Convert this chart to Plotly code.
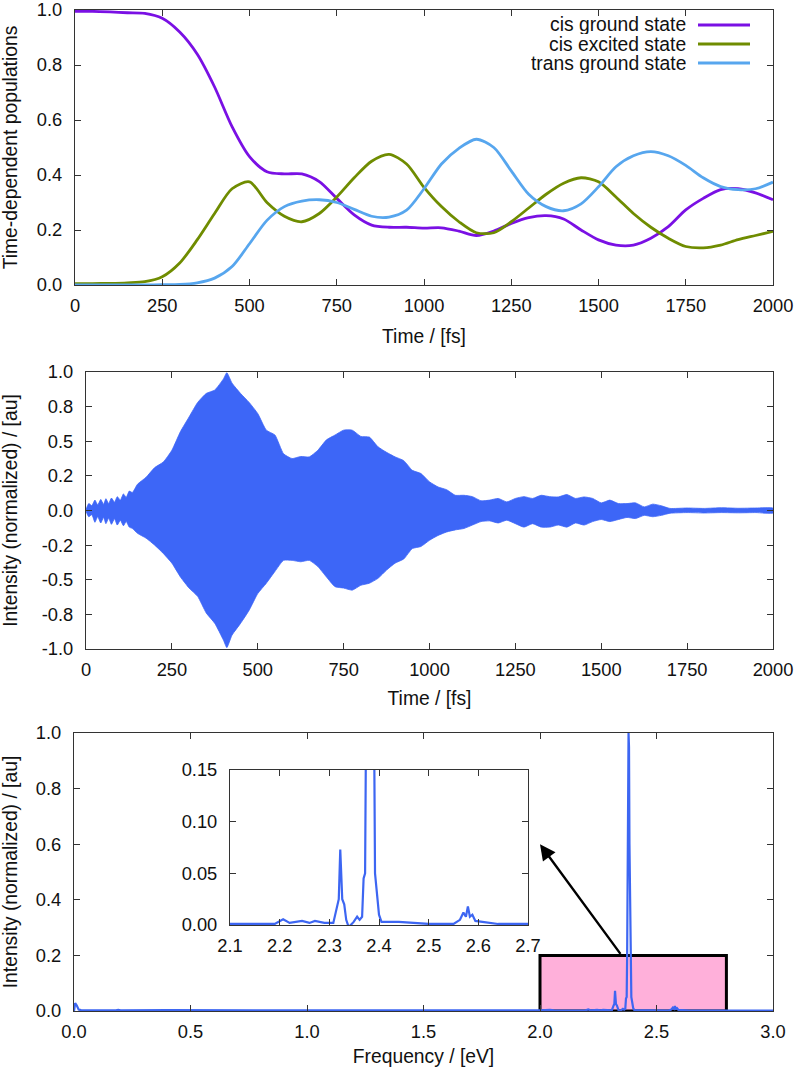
import plotly.graph_objects as go

W, H = 796, 1070

# ---------------- data: panel 1 (populations) ----------------
time_pop = list(range(0, 2001, 50))
cis_ground = [0.995, 0.995, 0.993, 0.99, 0.988, 0.97, 0.92, 0.84, 0.72, 0.576, 0.467,
              0.412, 0.404, 0.404, 0.376, 0.315, 0.255, 0.218, 0.21, 0.21, 0.207,
              0.208, 0.196, 0.18, 0.196, 0.224, 0.245, 0.252, 0.24, 0.2, 0.164,
              0.145, 0.145, 0.17, 0.212, 0.273, 0.315, 0.347, 0.35, 0.335, 0.31]
cis_excited = [0.005, 0.005, 0.006, 0.008, 0.012, 0.03, 0.08, 0.164, 0.26, 0.35, 0.375,
               0.30, 0.25, 0.23, 0.26, 0.32, 0.39, 0.45, 0.475, 0.44, 0.355,
               0.285, 0.23, 0.19, 0.19, 0.23, 0.28, 0.33, 0.37, 0.39, 0.375,
               0.32, 0.26, 0.21, 0.17, 0.14, 0.135, 0.145, 0.165, 0.18, 0.195]
trans_ground = [0.0, 0.0, 0.0, 0.0, 0.0, 0.001, 0.002, 0.008, 0.025, 0.067, 0.15,
                0.235, 0.285, 0.305, 0.31, 0.30, 0.275, 0.25, 0.247, 0.272, 0.35,
                0.44, 0.497, 0.53, 0.50, 0.415, 0.33, 0.285, 0.27, 0.295, 0.357,
                0.43, 0.47, 0.485, 0.47, 0.435, 0.39, 0.358, 0.347, 0.35, 0.374]
series_names = ["cis ground state", "cis excited state", "trans ground state"]
series_colors = ["#7a10e4", "#6f8c00", "#57a6ee"]

# ---------------- data: panel 2 (signal envelope) ----------------
time_sig = [0, 8, 17, 26, 34, 43, 51, 58, 66, 74, 83, 91, 100, 109, 117, 126, 135,
            150, 175, 200, 225, 250, 275, 300, 325, 350, 375, 400, 410, 425, 450,
            475, 500, 525, 550, 575, 600, 625, 650, 675, 700, 725, 750, 775, 800,
            825, 850, 875, 900, 925, 950, 975, 1000, 1025, 1050, 1075, 1100, 1125,
            1150, 1175, 1200, 1225, 1250, 1275, 1300, 1325, 1350, 1375, 1400, 1425,
            1450, 1475, 1500, 1525, 1550, 1575, 1600, 1625, 1650, 1675, 1700, 1750,
            1800, 1850, 1900, 1950, 2000]
sig_upper = [0.0, 0.05, 0.035, 0.075, 0.04, 0.08, 0.045, 0.085, 0.05, 0.09, 0.06, 0.1,
             0.075, 0.12, 0.095, 0.14, 0.13,
             0.19, 0.24, 0.31, 0.35, 0.435, 0.57, 0.675, 0.78, 0.845, 0.87, 0.95, 0.995,
             0.92, 0.845, 0.78, 0.70, 0.58, 0.545, 0.41, 0.375, 0.39, 0.387, 0.435,
             0.51, 0.545, 0.58, 0.58, 0.535, 0.53, 0.46, 0.42, 0.387, 0.36, 0.29,
             0.267, 0.207, 0.17, 0.15, 0.11, 0.11, 0.1, 0.07, 0.075, 0.087, 0.062,
             0.087, 0.1, 0.087, 0.11, 0.1, 0.098, 0.115, 0.087, 0.098, 0.087, 0.055,
             0.075, 0.05, 0.05, 0.055, 0.026, 0.046, 0.034, 0.015, 0.018, 0.015, 0.02,
             0.016, 0.018, 0.017]
sig_lower = [0.0, -0.045, -0.03, -0.085, -0.045, -0.09, -0.05, -0.095, -0.055, -0.1,
             -0.06, -0.105, -0.07, -0.11, -0.08, -0.12, -0.13,
             -0.165, -0.2, -0.25, -0.31, -0.38, -0.48, -0.56, -0.62, -0.74, -0.815,
             -0.935, -0.99, -0.9, -0.815, -0.72, -0.6, -0.525, -0.44, -0.36, -0.36,
             -0.37, -0.36, -0.405, -0.48, -0.55, -0.56, -0.575, -0.54, -0.525, -0.49,
             -0.43, -0.38, -0.35, -0.275, -0.26, -0.215, -0.18, -0.155, -0.14, -0.13,
             -0.105, -0.08, -0.075, -0.09, -0.07, -0.095, -0.12, -0.095, -0.12, -0.12,
             -0.105, -0.12, -0.09, -0.105, -0.08, -0.065, -0.08, -0.065, -0.05, -0.058,
             -0.035, -0.045, -0.035, -0.02, -0.015, -0.018, -0.015, -0.017, -0.015,
             -0.018]

# ---------------- data: panel 3 (spectrum) ----------------
freq = [0.0, 0.005, 0.012, 0.02, 0.03, 0.1, 0.18, 0.19, 0.2, 0.4, 0.8, 1.2, 1.6, 2.0,
        2.043, 2.06, 2.1, 2.15, 2.19, 2.207, 2.22, 2.245, 2.26, 2.271, 2.29, 2.308,
        2.316, 2.319, 2.322, 2.326, 2.330, 2.334, 2.339, 2.349, 2.356, 2.361, 2.366,
        2.369, 2.372, 2.374, 2.377, 2.380, 2.382, 2.384, 2.386, 2.388, 2.390, 2.392,
        2.395, 2.400, 2.405, 2.415, 2.44, 2.5, 2.55, 2.563, 2.570, 2.575, 2.579,
        2.583, 2.588, 2.594, 2.614, 2.64, 2.7, 2.8, 3.0]
intensity = [0.0, 0.028, 0.02, 0.005, 0.003, 0.002, 0.002, 0.004, 0.002, 0.003, 0.002,
             0.002, 0.002, 0.002,
             0.004, 0.002, 0.001, 0.001, 0.001, 0.0055, 0.002, 0.004, 0.002, 0.004,
             0.002, 0.002,
             0.02, 0.025, 0.073, 0.025, 0.02, 0.005, -0.002, 0.003, 0.008, 0.005, 0.008,
             0.045, 0.05, 0.2, 0.6, 1.0, 0.95, 0.6, 0.42, 0.40, 0.2, 0.05,
             0.035, 0.01, 0.003, 0.003, 0.003, 0.001, 0.001, 0.005, 0.012, 0.008, 0.018,
             0.008, 0.01, 0.004, 0.003, 0.001, 0.001, 0.001, 0.001]

# ---------------- tick labels ----------------
pop_xticks = list(range(0, 2001, 250))
pop_yticks = [0.0, 0.2, 0.4, 0.6, 0.8, 1.0]
sig_yticks = [-1.0, -0.75, -0.5, -0.25, 0.0, 0.25, 0.5, 0.75, 1.0]
sig_yticktext = ["-1.0", "-0.8", "-0.5", "-0.2", "0.0", "0.2", "0.5", "0.8", "1.0"]
spec_xticks = [0.0, 0.5, 1.0, 1.5, 2.0, 2.5, 3.0]
inset_xticks = [2.1, 2.2, 2.3, 2.4, 2.5, 2.6, 2.7]
inset_yticks = [0.0, 0.05, 0.10, 0.15]

# ---------------- geometry helpers (pixels -> paper) ----------------
def px(x):
    return x / W

def py(y):
    return 1 - y / H

FONT = "Liberation Sans, Arial, Helvetica, sans-serif"
spec_color = "#3d66f2"
TICK_SIZE = 18.3
TITLE_SIZE = 19.3

fig = go.Figure()

for name, vals, col in zip(series_names, [cis_ground, cis_excited, trans_ground], series_colors):
    fig.add_trace(go.Scatter(x=time_pop, y=vals, mode="lines", name=name,
                             line=dict(color=col, width=2.8, shape="spline", smoothing=0.8),
                             xaxis="x", yaxis="y", showlegend=False))

fig.add_trace(go.Scatter(x=time_sig + time_sig[::-1], y=sig_upper + sig_lower[::-1],
                         mode="lines", fill="toself", fillcolor="#3d66f7",
                         line=dict(color="#3d66f7", width=0.8, shape="spline", smoothing=0.5),
                         xaxis="x2", yaxis="y2", showlegend=False))

fig.add_trace(go.Scatter(x=freq, y=intensity, mode="lines",
                         line=dict(color=spec_color, width=2.2),
                         xaxis="x3", yaxis="y3", showlegend=False))
fig.add_trace(go.Scatter(x=freq, y=intensity, mode="lines",
                         line=dict(color=spec_color, width=2.2),
                         xaxis="x4", yaxis="y4", showlegend=False))

axis_common = dict(showline=True, linecolor="#333333", linewidth=1.2, mirror="ticks",
                   ticks="inside", ticklen=6, tickwidth=1.2, tickcolor="#333333",
                   showgrid=False, zeroline=False, automargin=False,
                   ticklabeloverflow="allow",
                   tickfont=dict(family=FONT, size=TICK_SIZE, color="#111111"))
title_font = dict(family=FONT, size=TITLE_SIZE, color="#111111")

fig.update_layout(
    width=W, height=H, margin=dict(l=0, r=0, t=0, b=0),
    paper_bgcolor="white", plot_bgcolor="white", showlegend=False,
    font=dict(family=FONT, size=TICK_SIZE, color="#111111"),
    xaxis=dict(axis_common, domain=[px(75), px(773)], anchor="y", range=[0, 2000],
               tickvals=pop_xticks, ticklabelstandoff=4,
               title=dict(text="Time / [fs]", font=title_font, standoff=14)),
    yaxis=dict(axis_common, domain=[py(285), py(10)], anchor="x", range=[0, 1.0],
               tickvals=pop_yticks, tickformat=".1f", ticklabelstandoff=8,
               title=dict(text="Time-dependent populations", font=title_font, standoff=14)),
    xaxis2=dict(axis_common, domain=[px(86), px(773)], anchor="y2", range=[0, 2000],
                tickvals=pop_xticks, ticklabelstandoff=4,
                title=dict(text="Time / [fs]", font=title_font, standoff=12)),
    yaxis2=dict(axis_common, domain=[py(649), py(372)], anchor="x2", range=[-1.0, 1.0],
                tickvals=sig_yticks, ticktext=sig_yticktext, ticklabelstandoff=8,
                title=dict(text="Intensity (normalized) / [au]", font=title_font, standoff=19)),
    xaxis3=dict(axis_common, domain=[px(74), px(773)], anchor="y3", range=[0, 3.0],
                tickvals=spec_xticks, tickformat=".1f", ticklabelstandoff=4,
                title=dict(text="Frequency / [eV]", font=title_font, standoff=8)),
    yaxis3=dict(axis_common, domain=[py(1011), py(733)], anchor="x3", range=[0, 1.0],
                tickvals=pop_yticks, tickformat=".1f", ticklabelstandoff=8,
                title=dict(text="Intensity (normalized) / [au]", font=title_font, standoff=14)),
    xaxis4=dict(axis_common, domain=[px(230), px(528)], anchor="y4", range=[2.1, 2.7],
                tickvals=inset_xticks, tickformat=".1f", ticklabelstandoff=4),
    yaxis4=dict(axis_common, domain=[py(925), py(770)], anchor="x4", range=[0, 0.15],
                tickvals=inset_yticks, tickformat=".2f", ticklabelstandoff=8),
)

# highlighted region in the spectrum
fig.add_shape(type="rect", xref="x3", yref="y3", x0=2.0, x1=2.8, y0=0.0, y1=0.2,
              fillcolor="#ffb0da", line=dict(color="black", width=3), layer="below")

# arrow from highlighted box to inset
fig.add_annotation(xref="x3", yref="y3", axref="x3", ayref="y3",
                   x=2.0, y=0.6, ax=2.35, ay=0.2, text="", showarrow=True,
                   arrowhead=2, arrowsize=1.3, arrowwidth=2.4, arrowcolor="black")

# manual legend (text right, line sample at right as in original)
legend_rows = [25, 44, 63]
for name, col, yrow in zip(series_names, series_colors, legend_rows):
    fig.add_annotation(xref="paper", yref="paper", x=px(687), y=py(yrow), text=name,
                       showarrow=False, xanchor="right", yanchor="middle",
                       height=19, valign="middle", borderpad=0,
                       font=dict(family=FONT, size=TITLE_SIZE, color="#111111"))
    fig.add_shape(type="line", xref="paper", yref="paper", x0=px(698), x1=px(750),
                  y0=py(yrow), y1=py(yrow), line=dict(color=col, width=2.8))

fig.write_html("out.html", config={"displayModeBar": False},
               post_script="document.body.style.margin='0';")
